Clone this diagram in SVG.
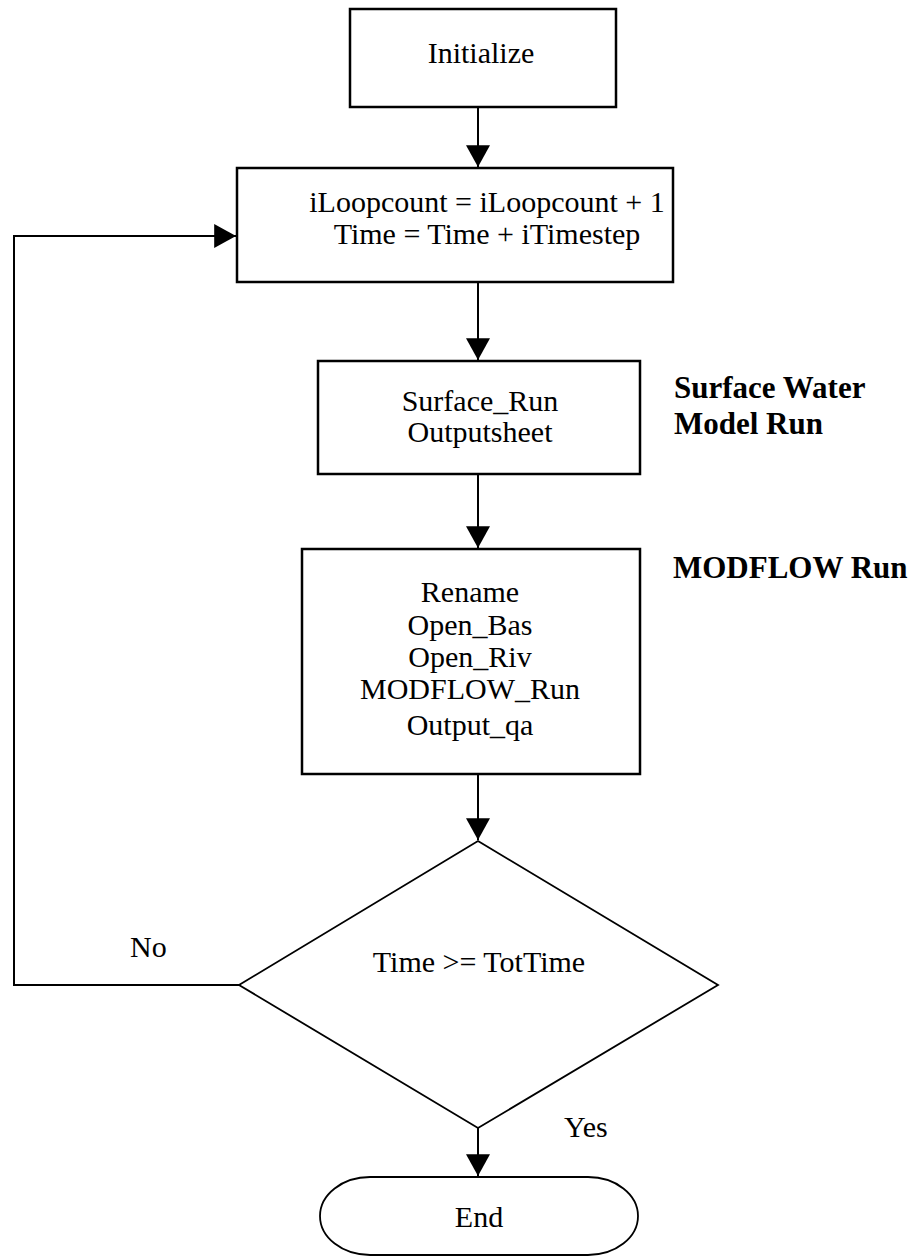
<svg xmlns="http://www.w3.org/2000/svg" width="916" height="1256" viewBox="0 0 916 1256">
<defs>
<style>
.box{fill:#fff;stroke:#000;stroke-width:2.5}
.dia{fill:#fff;stroke:#000;stroke-width:1.8}
.t{font-family:"Liberation Serif","Times New Roman",serif;font-size:30px;fill:#000;text-anchor:middle}
.b{font-family:"Liberation Serif","Times New Roman",serif;font-size:31px;font-weight:bold;fill:#000}
.l{font-family:"Liberation Serif","Times New Roman",serif;font-size:30px;fill:#000}
.c{fill:none;stroke:#000;stroke-width:2}
</style>
<marker id="ah" markerUnits="userSpaceOnUse" markerWidth="24" markerHeight="24" viewBox="0 0 20 22" refX="20" refY="11" orient="auto">
<path d="M0,0 L20,11 L0,22 Z" fill="#000"/>
</marker>
</defs>
<g id="connectors">
<path class="c" d="M478,107 V167" marker-end="url(#ah)"/>
<path class="c" d="M478,282 V360" marker-end="url(#ah)"/>
<path class="c" d="M478,474 V548" marker-end="url(#ah)"/>
<path class="c" d="M478,774 V840" marker-end="url(#ah)"/>
<path class="c" d="M478,1128 V1176" marker-end="url(#ah)"/>
<path class="c" d="M239,985 H14 V236 H236" marker-end="url(#ah)"/>
</g>
<g id="initialize">
<rect class="box" x="350" y="9" width="266" height="98"/>
<text class="t" x="481" y="63">Initialize</text>
</g>
<g id="loopcount">
<rect class="box" x="237" y="168" width="436" height="114"/>
<text class="t" x="487" y="212">iLoopcount = iLoopcount + 1</text>
<text class="t" x="487" y="244">Time = Time + iTimestep</text>
</g>
<g id="surface">
<rect class="box" x="318" y="361" width="322" height="113"/>
<text class="t" x="480" y="411">Surface_Run</text>
<text class="t" x="480" y="442">Outputsheet</text>
</g>
<g id="surface-label">
<text class="b" x="674" y="398">Surface Water</text>
<text class="b" x="674" y="434">Model Run</text>
</g>
<g id="modflow">
<rect class="box" x="302" y="549" width="338" height="225"/>
<text class="t" x="470" y="602">Rename</text>
<text class="t" x="470" y="635">Open_Bas</text>
<text class="t" x="470" y="667">Open_Riv</text>
<text class="t" x="470" y="699">MODFLOW_Run</text>
<text class="t" x="470" y="735">Output_qa</text>
</g>
<g id="modflow-label">
<text class="b" x="673" y="578">MODFLOW Run</text>
</g>
<g id="decision">
<polygon class="dia" points="478,841 718,985 478,1128 239,985"/>
<text class="t" x="479" y="972">Time &gt;= TotTime</text>
</g>
<g id="labels">
<text class="l" x="130" y="957">No</text>
<text class="l" x="564" y="1137">Yes</text>
</g>
<g id="end">
<path class="dia" d="M370,1177 H588 A50,39 0 0 1 588,1255 H370 A50,39 0 0 1 370,1177 Z"/>
<text class="t" x="479" y="1227">End</text>
</g>
</svg>
